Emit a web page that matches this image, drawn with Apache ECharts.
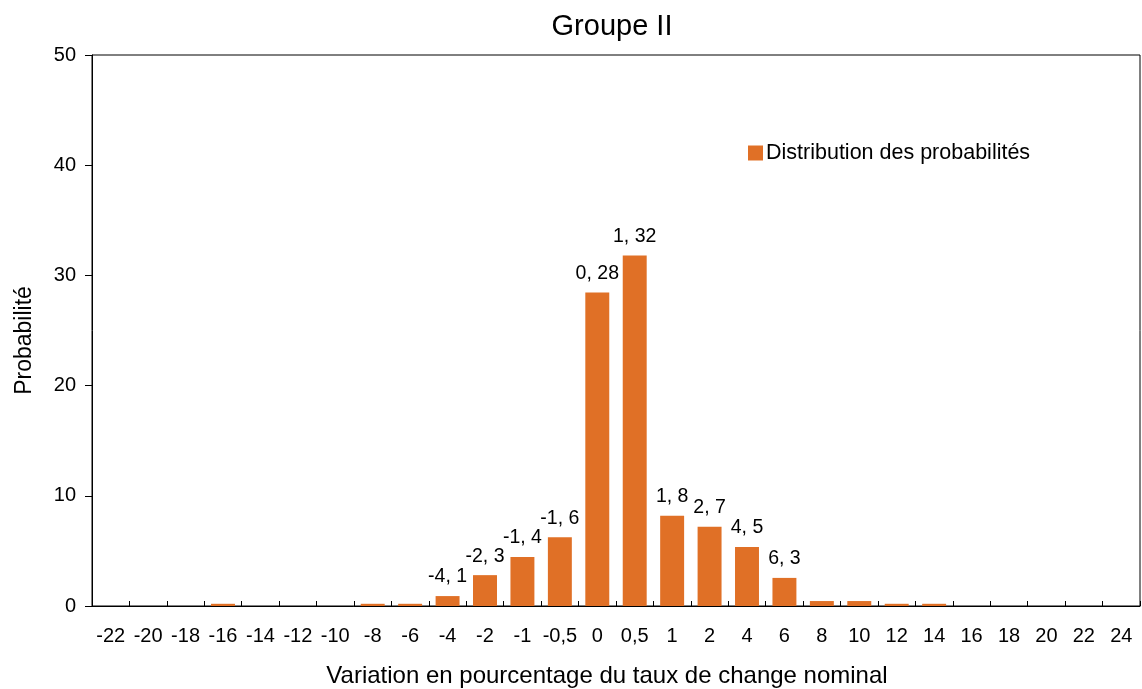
<!DOCTYPE html>
<html>
<head>
<meta charset="utf-8">
<script src="https://cdn.jsdelivr.net/npm/echarts@6/dist/echarts.min.js"></script>
<style>
  html, body { margin: 0; padding: 0; background: #fff; }
  #chart { width: 1142px; height: 689px; }
</style>
</head>
<body>
<div id="chart"></div>
<script>
// Categories (variation in %), as printed on the x axis
const categories = ['-22', '-20', '-18', '-16', '-14', '-12', '-10', '-8', '-6', '-4', '-2', '-1', '-0,5',
  '0', '0,5', '1', '2', '4', '6', '8', '10', '12', '14', '16', '18', '20', '22', '24'];

// Probabilities
const probabilities = [0, 0, 0, 0.2, 0, 0, 0, 0.2, 0.2, 0.9, 2.8, 4.45, 6.25,
  28.45, 31.8, 8.2, 7.2, 5.35, 2.55, 0.45, 0.45, 0.2, 0.2, 0, 0, 0, 0, 0];

// Data labels shown above some bars (empty = none)
const barLabels = ['', '', '', '', '', '', '', '', '', '-4, 1', '-2, 3', '-1, 4', '-1, 6',
  '0, 28', '1, 32', '1, 8', '2, 7', '4, 5', '6, 3', '', '', '', '', '', '', '', '', ''];

const yTicks = [0, 10, 20, 30, 40, 50];

const FONT = '"Liberation Sans", Arial, sans-serif';
const BAR_COLOR = '#E07026';

const chart = echarts.init(document.getElementById('chart'));

chart.setOption({
  animation: false,
  textStyle: { fontFamily: FONT, color: '#000' },
  title: {
    text: 'Groupe II',
    left: 607,
    top: 7,
    textAlign: 'center',
    textStyle: { fontFamily: FONT, fontSize: 29, fontWeight: 'normal', color: '#000' }
  },
  legend: {
    data: ['Distribution des probabilités'],
    left: 743,
    top: 137,
    icon: 'rect',
    itemWidth: 15,
    itemHeight: 15,
    itemGap: 6,
    textStyle: { fontFamily: FONT, fontSize: 21.5, color: '#000', padding: [0, 0, 0, -2] }
  },
  grid: {
    left: 92,
    right: 2,
    top: 55,
    bottom: 83,
    show: true,
    borderColor: '#000',
    borderWidth: 1,
    containLabel: false,
    outerBoundsMode: 'none'
  },
  xAxis: {
    type: 'category',
    data: categories,
    name: 'Variation en pourcentage du taux de change nominal',
    nameLocation: 'middle',
    nameGap: 58,
    nameTextStyle: { fontFamily: FONT, fontSize: 24, color: '#000', padding: [0, 18, 0, 0] },
    axisLine: { lineStyle: { color: '#000', width: 1 } },
    axisTick: { show: true, inside: true, length: 5, alignWithLabel: false, lineStyle: { color: '#000' } },
    axisLabel: { fontFamily: FONT, fontSize: 20, color: '#000', margin: 20, interval: 0 },
    splitLine: { show: false }
  },
  yAxis: {
    type: 'value',
    min: yTicks[0],
    max: yTicks[yTicks.length - 1],
    interval: 10,
    name: 'Probabilité',
    nameLocation: 'middle',
    nameGap: 56,
    nameRotate: 90,
    nameTextStyle: { fontFamily: FONT, fontSize: 23, color: '#000', padding: [0, 0, 0, -20] },
    axisLine: { show: true, lineStyle: { color: '#000', width: 1 } },
    axisTick: { show: true, inside: false, length: 7, lineStyle: { color: '#000' } },
    axisLabel: { fontFamily: FONT, fontSize: 20, color: '#000', margin: 16 },
    splitLine: { show: false }
  },
  series: [
    {
      name: 'Distribution des probabilités',
      type: 'bar',
      data: probabilities,
      barCategoryGap: '36%',
      itemStyle: { color: BAR_COLOR },
      label: {
        show: true,
        position: 'top',
        distance: 9,
        fontFamily: FONT,
        fontSize: 19.5,
        color: '#000',
        formatter: (p) => barLabels[p.dataIndex]
      }
    }
  ]
});
</script>
</body>
</html>
